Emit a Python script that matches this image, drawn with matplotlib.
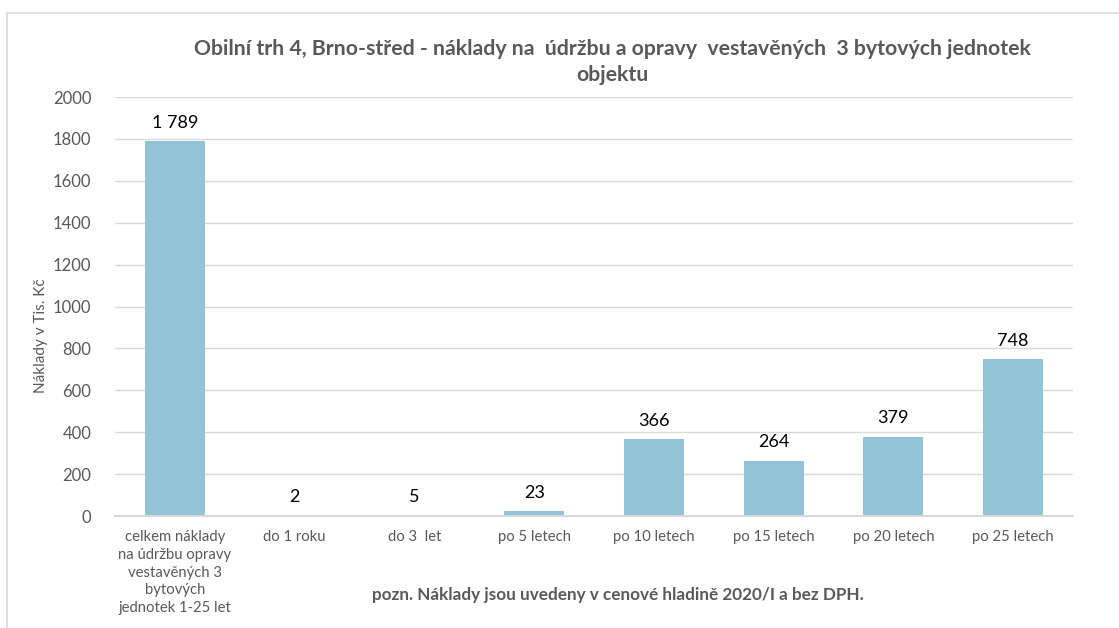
import matplotlib.pyplot as plt

plt.rcParams["font.family"] = ["Lato", "DejaVu Sans"]

categories = [
    "celkem náklady\nna údržbu opravy\nvestavěných 3\nbytových\njednotek 1-25 let",
    "do 1 roku",
    "do 3  let",
    "po 5 letech",
    "po 10 letech",
    "po 15 letech",
    "po 20 letech",
    "po 25 letech",
]
values = [1789, 2, 5, 23, 366, 264, 379, 748]
value_labels = ["1 789", "2", "5", "23", "366", "264", "379", "748"]
yticks = [0, 200, 400, 600, 800, 1000, 1200, 1400, 1600, 1800, 2000]

bar_color = "#92C4D5"
text_color = "#595959"
grid_color = "#D9D9D9"

fig = plt.figure(figsize=(11.19, 6.28), dpi=100)
fig.set_facecolor("white")
ax = fig.add_axes([0.1028, 0.1783, 0.8561, 0.6672])

# outer chart border (only left and top visible)
fig.add_artist(plt.Line2D([7 / 1119, 7 / 1119], [0, 1 - 13 / 628], transform=fig.transFigure,
                          color=grid_color, lw=1.2))
fig.add_artist(plt.Line2D([7 / 1119, 1], [1 - 13 / 628, 1 - 13 / 628], transform=fig.transFigure,
                          color=grid_color, lw=1.2))

x = range(len(categories))
ax.bar(x, values, width=0.5, color=bar_color, zorder=3)
for xi, v, lab in zip(x, values, value_labels):
    ax.text(xi, v + 50, lab, ha="center", va="bottom", fontsize=13, color="black")

ax.set_xlim(-0.5, len(categories) - 0.5)
ax.set_ylim(0, 2000)
ax.set_yticks(yticks)
ax.set_xticks(list(x))
ax.set_xticklabels(categories, fontsize=10.7, color=text_color, linespacing=1.35)
ax.tick_params(axis="y", labelsize=12, labelcolor=text_color, length=0, pad=17)
ax.tick_params(axis="x", length=0, pad=10)
ax.grid(axis="y", color=grid_color, lw=1, zorder=0)
for s in ["top", "right", "left"]:
    ax.spines[s].set_visible(False)
ax.spines["bottom"].set_color(grid_color)
ax.spines["bottom"].set_linewidth(1.5)
ax.spines["bottom"].set_zorder(4)

ax.set_ylabel("Náklady v Tis. Kč", fontsize=11, color=text_color)
ax.yaxis.set_label_coords(-0.07, 0.43)

fig.text(0.547, 1 - 62 / 628,
         "Obilní trh 4, Brno-střed - náklady na  údržbu a opravy  vestavěných  3 bytových jednotek\nobjektu",
         ha="center", va="center", fontsize=15.3, fontweight="bold", color=text_color,
         linespacing=1.35)
fig.text(0.552, 1 - 595 / 628, "pozn. Náklady jsou uvedeny v cenové hladině 2020/I a bez DPH.",
         ha="center", va="center", fontsize=12.3, fontweight="bold", color=text_color)

fig.savefig("out.png", dpi=100)
